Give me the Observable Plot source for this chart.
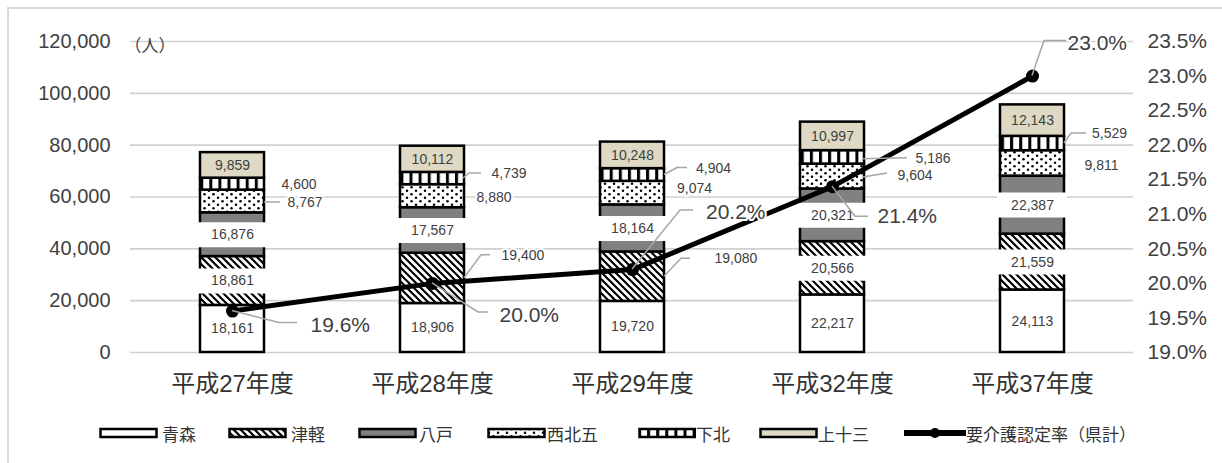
<!DOCTYPE html>
<html><head><meta charset="utf-8">
<script src="https://cdn.jsdelivr.net/npm/d3@7"></script>
<script src="https://cdn.jsdelivr.net/npm/@observablehq/plot@0.6"></script>
<style>
body{margin:0;background:#fff;overflow:hidden;}
#wrap{position:relative;width:1222px;height:463px;overflow:hidden;font-family:'Liberation Sans','Noto Sans CJK JP',sans-serif;background:#fff;}
#frame{position:absolute;left:7px;top:7px;width:1300px;height:500px;border-left:2px solid #d9d9d9;border-top:2px solid #d9d9d9;}
#chart{position:absolute;left:0;top:0;}
.leg{position:absolute;top:424px;height:18px;display:flex;align-items:center;font-family:'Noto Sans CJK JP',sans-serif;font-size:17px;color:#333;white-space:nowrap;}
</style></head>
<body>
<svg width="0" height="0" style="position:absolute">
  <defs>
    <pattern id="p-hatch" patternUnits="userSpaceOnUse" width="7" height="7">
      <rect width="7" height="7" fill="#fff"/>
      <path d="M-1,-1 L8,8 M-1,6 L1,8 M6,-1 L8,1" stroke="#000" stroke-width="2.2"/>
    </pattern>
    <pattern id="p-dots" patternUnits="userSpaceOnUse" width="9" height="7">
      <rect width="9" height="7" fill="#fff"/>
      <circle cx="2" cy="1.8" r="1.25" fill="#000"/>
      <circle cx="6.5" cy="5.3" r="1.25" fill="#000"/>
    </pattern>
    <pattern id="p-vstripe" patternUnits="userSpaceOnUse" width="9.1" height="9">
      <rect width="9.1" height="9" fill="#fff"/>
      <rect x="0" width="3" height="9" fill="#000"/>
    </pattern>
  </defs>
</svg>
<div id="wrap"><div id="frame"></div><div id="chart"></div></div>
<script>
// ---- data ----
const categories = ["平成27年度","平成28年度","平成29年度","平成32年度","平成37年度"];
const regions = ["青森","津軽","八戸","西北五","下北","上十三"];
const aomori    = [18161,18906,19720,22217,24113];
const tsugaru   = [18861,19400,19080,20566,21559];
const hachinohe = [16876,17567,18164,20321,22387];
const seihokugo = [8767,8880,9074,9604,9811];
const shimokita = [4600,4739,4904,5186,5529];
const kamitosan = [9859,10112,10248,10997,12143];
const rate = [19.6,20.0,20.2,21.4,23.0];
const rateLabels = ["19.6%","20.0%","20.2%","21.4%","23.0%"];
const countTicks = [0,20000,40000,60000,80000,100000,120000];
const rateTicks = [19.0,19.5,20.0,20.5,21.0,21.5,22.0,22.5,23.0,23.5];
const unitLabel = "（人）";
const rateName = "要介護認定率（県計）";

// ---- styling / layout ----
const seriesValues = [aomori,tsugaru,hachinohe,seihokugo,shimokita,kamitosan];
const fills = {"青森":"#ffffff","津軽":"url(#p-hatch)","八戸":"#808080","西北五":"url(#p-dots)","下北":"url(#p-vstripe)","上十三":"#ddd9c4"};
const B = "box", I = "in";
const labelLayout = {
  "青森":[I,I,I,I,I],
  "津軽":[B,{dx:69,dy:-23,pts:[[32,0],[49,-23],[58,-23]]},{dx:82,dy:-18,pts:[[32,0],[49,-18],[58,-18]]},B,B],
  "八戸":[B,B,B,B,B],
  "西北五":[{dx:55,dy:1,pts:[[32,1],[48,1]]},{dx:44,dy:1.5},{dx:44.5,dy:-5},{dx:65,dy:-1,pts:[[31,1],[55,-3]]},{dx:52,dy:2}],
  "下北":[{dx:49,dy:0},{dx:59,dy:-5,pts:[[31,0],[37,-5],[49,-5]]},{dx:63.5,dy:-6,pts:[[32,0],[45,-7],[55,-7]]},{dx:83,dy:1,pts:[[30,2],[75,1]]},{dx:59.5,dy:-10,pts:[[32,0],[39,-10],[54,-10]]}],
  "上十三":[I,I,I,I,I]
};
const rateLayout = [
  {dx:78,dy:14.5,pts:[[0,0],[47,12],[65,12]]},
  {dx:67,dy:32,pts:[[0,0],[46,29],[56,29]]},
  {dx:73.5,dy:-57,pts:[[0,0],[48,-59],[61,-59]]},
  {dx:45,dy:30,pts:[[0,0],[23,30],[36,30]]},
  {dx:35,dy:-33,pts:[[0,0],[12,-35],[34,-35]]}
];
const toCount = r => (r - 19) / 4.5 * 120000;
const toRate = c => 19 + c / 120000 * 4.5;
const fmt = d3.format(",");

// ---- build table ----
const segs = [];
categories.forEach((cat, ci) => {
  let acc = 0;
  regions.forEach((reg, ri) => {
    const v = seriesValues[ri][ci];
    segs.push({cat, region: reg, value: v, y1: acc, y2: acc + v, mid: acc + v / 2, fill: fills[reg], layout: labelLayout[reg][ci]});
    acc += v;
  });
});
const rateData = categories.map((cat, i) => ({cat, rate: rate[i], yc: toCount(rate[i]), label: rateLabels[i], layout: rateLayout[i]}));

const labelFont = 14, textColor = "#404040";
const inside = segs.filter(d => d.layout === I || d.layout === B);
const boxes = segs.filter(d => d.layout === B);
const outside = segs.filter(d => typeof d.layout === "object");

const marks = [
  Plot.gridY({ticks: countTicks, stroke: "#d0d0d0", strokeOpacity: 1, strokeWidth: 1.6}),
  Plot.barY(segs, {x: "cat", y1: "y1", y2: "y2", fill: "fill", stroke: "#000", strokeWidth: 2.5}),
  Plot.tickY(boxes, {x: "cat", y: "mid", stroke: "#fff", strokeWidth: 25, insetLeft: -2.5, insetRight: -2.5}),
  Plot.text(inside, {x: "cat", y: "mid", text: d => fmt(d.value), fontSize: labelFont, fill: textColor}),
  ...outside.map(d => Plot.text([d], {x: "cat", y: "mid", text: d => fmt(d.value), fontSize: labelFont, fill: textColor, textAnchor: "start", dx: d.layout.dx, dy: d.layout.dy, stroke: "#fff", strokeWidth: 4, paintOrder: "stroke"})),
  Plot.axisY({ticks: countTicks, tickFormat: fmt, tickSize: 0, tickPadding: 20, fontSize: 20, label: null}),
  Plot.axisY({anchor: "right", ticks: rateTicks.map(toCount), tickFormat: v => toRate(v).toFixed(1) + "%", tickSize: 0, tickPadding: 14, fontSize: 21, label: null}),
  Plot.axisX({tickSize: 0, tickPadding: 22, fontSize: 24, label: null, fill: "#333"}),
  Plot.text([unitLabel], {frameAnchor: "top-left", text: d => d, textAnchor: "start", dx: -6, dy: -2, fontSize: 17, fill: textColor, fontFamily: "Noto Sans CJK JP"}),
  Plot.line(rateData, {x: "cat", y: "yc", stroke: "#000", strokeWidth: 5}),
  Plot.dot(rateData, {x: "cat", y: "yc", r: 6.5, fill: "#000"}),
  ...rateData.map(d => Plot.text([d], {x: "cat", y: "yc", text: "label", fontSize: 21, fill: textColor, textAnchor: "start", dx: d.layout.dx, dy: d.layout.dy, stroke: "#fff", strokeWidth: 4, paintOrder: "stroke"}))
];

const plot = Plot.plot({
  width: 1222, height: 400,
  marginLeft: 130, marginRight: 89, marginTop: 41, marginBottom: 48,
  x: {type: "band", domain: categories, paddingInner: 0.68, paddingOuter: 0.34},
  y: {domain: [0, 120000]},
  color: {type: "identity"},
  style: {fontFamily: "'Liberation Sans','Noto Sans CJK JP',sans-serif", color: textColor, background: "transparent", overflow: "visible"},
  marks
});
document.getElementById("chart").appendChild(plot);

// leader lines positioned with the plot's own scales
const sx = plot.scale("x"), sy = plot.scale("y");
const cx = c => sx.apply(c) + sx.bandwidth / 2;
const lg = d3.select(plot).append("g").attr("fill", "none").attr("stroke", "#a6a6a6").attr("stroke-width", 1.5);
outside.filter(d => d.layout.pts).forEach(d => {
  const x0 = cx(d.cat), y0 = sy.apply(d.mid);
  lg.append("path").attr("d", d3.line()(d.layout.pts.map(([a, b]) => [x0 + a, y0 + b])));
});
rateData.forEach(d => {
  const x0 = cx(d.cat), y0 = sy.apply(d.yc);
  lg.append("path").attr("d", d3.line()(d.layout.pts.map(([a, b]) => [x0 + a, y0 + b])));
});

// legend
const legPos = [[99,162],[228,291],[358,419],[487,547],[638,696],[759,818]];
const wrap = document.getElementById("wrap");
regions.forEach((reg, i) => {
  const div = document.createElement("div");
  div.className = "leg";
  div.style.left = legPos[i][0] + "px";
  div.innerHTML = `<svg width="${legPos[i][1] - legPos[i][0]}" height="18"><rect x="1.5" y="5" width="56" height="8" fill="${fills[reg]}" stroke="#000" stroke-width="2.5"/></svg><span>${reg}</span>`;
  wrap.appendChild(div);
});
const ld = document.createElement("div");
ld.className = "leg";
ld.style.left = "904px";
ld.innerHTML = `<svg width="62" height="18"><line x1="0" y1="9" x2="62" y2="9" stroke="#000" stroke-width="6"/><circle cx="31" cy="9" r="5" fill="#000"/></svg><span>${rateName}</span>`;
wrap.appendChild(ld);
</script>
</body></html>
